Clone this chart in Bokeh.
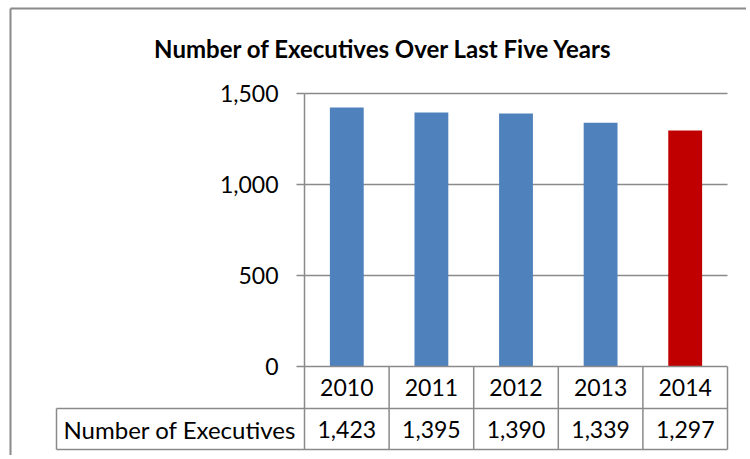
from bokeh.plotting import figure
from bokeh.models import Range1d, LinearAxis, FixedTicker, NumeralTickFormatter
from bokeh.core.properties import value
from bokeh.embed import file_html
from bokeh.resources import INLINE

# ---------------- data ----------------
years = ["2010", "2011", "2012", "2013", "2014"]
executives = [1423, 1395, 1390, 1339, 1297]
series_name = "Number of Executives"
chart_title = "Number of Executives Over Last Five Years"
y_ticks = [0, 500, 1000, 1500]

# ---------------- styles / layout ----------------
BLUE = "#4F81BD"
RED = "#C00000"
bar_colors = [BLUE, BLUE, BLUE, BLUE, RED]
GRAY = "#8a8a8a"
FONT = "Lato"

W, H = 746, 455          # figure size
PAGE = 0                 # page offset of the figure
AXIS_PX = 304            # page x of value axis (left edge of first category)
CAT_PX = 84.6            # page width of one category column
ZERO_PX = 366            # page y of value 0
TOP_PX = 93              # page y of top tick
ROW1_PX = 408            # page y of divider between table rows
ROW2_PX = 449            # page y of table bottom
LABEL_LEFT_PX = 56       # page x of table label cell left edge

ppu = (ZERO_PX - TOP_PX) / max(y_ticks)   # pixels per value unit
X0 = -0.5 - (AXIS_PX - PAGE) / CAT_PX
Y1 = (ZERO_PX - PAGE) / ppu


def xd(px):
    return X0 + (px - PAGE) / CAT_PX


def yd(py):
    return Y1 - (py - PAGE) / ppu


p = figure(width=W, height=H, output_backend="svg", toolbar_location=None,
           x_range=Range1d(X0, X0 + W / CAT_PX), y_range=Range1d(Y1 - H / ppu, Y1),
           x_axis_location=None, y_axis_location=None,
           min_border_left=0, min_border_right=0, min_border_top=0, min_border_bottom=0)
p.outline_line_color = None
p.background_fill_color = "white"
p.border_fill_color = "white"
p.xgrid.visible = False
p.ygrid.visible = False

n = len(years)
xs = list(range(n))
left_edge = -0.5
right_edge = n - 0.5
row1_y = yd(ROW1_PX)
row2_y = yd(ROW2_PX)
label_left = xd(LABEL_LEFT_PX)

# outer chart border (left and top; the rest is cropped)
p.segment(x0=[xd(10), xd(10)], y0=[yd(8), yd(8)], x1=[xd(10), X0 + W / CAT_PX],
          y1=[Y1 - H / ppu, yd(8)], line_color=GRAY, line_width=2)

# gridlines
grid_vals = [t for t in y_ticks if t != 0]
p.segment(x0=[left_edge] * len(grid_vals), x1=[right_edge] * len(grid_vals),
          y0=grid_vals, y1=grid_vals, line_color=GRAY, line_width=1.5)

# bars
p.vbar(x=xs, top=executives, width=0.4, bottom=0, color=bar_colors, line_color=None)

# data table lines
hx0 = [left_edge, label_left, label_left]
hx1 = [right_edge, right_edge, right_edge]
hy = [0, row1_y, row2_y]
p.segment(x0=hx0, x1=hx1, y0=hy, y1=hy, line_color=GRAY, line_width=1.5)
vx = [i + 0.5 for i in xs] + [label_left]
vy0 = [0] * n + [row1_y]
p.segment(x0=vx, x1=vx, y0=vy0, y1=[row2_y] * (n + 1), line_color=GRAY, line_width=1.5)

# table texts
p.text(x=xs, y=[(0 + row1_y) / 2] * n, text=years, text_align="center",
       text_baseline="middle", text_font=value(FONT), text_font_size="23px", text_color="black")
p.text(x=xs, y=[(row1_y + row2_y) / 2] * n, text=[f"{v:,}" for v in executives],
       text_align="center", text_baseline="middle", text_font=value(FONT),
       text_font_size="23px", text_color="black")
p.text(x=[xd(63)], y=[(row1_y + row2_y) / 2], text=[series_name], text_align="left",
       text_baseline="middle", text_font=value(FONT), text_font_size="24px", text_color="black")

# title
p.text(x=[xd(383)], y=[yd(48)], text=[chart_title], text_align="center",
       text_baseline="middle", text_font=value(FONT), text_font_style="bold",
       text_font_size="24px", text_color="black")

# value axis
yaxis = LinearAxis(fixed_location=left_edge, bounds=(row2_y, max(y_ticks)),
                   ticker=FixedTicker(ticks=y_ticks),
                   formatter=NumeralTickFormatter(format="0,0"))
yaxis.axis_line_color = GRAY
yaxis.axis_line_width = 1.5
yaxis.major_tick_line_color = GRAY
yaxis.major_tick_line_width = 1.5
yaxis.major_tick_out = 8
yaxis.major_tick_in = 0
yaxis.minor_tick_line_color = None
yaxis.major_label_standoff = 18
yaxis.major_label_text_font = FONT
yaxis.major_label_text_font_size = "23px"
yaxis.major_label_text_color = "black"
p.add_layout(yaxis, "left")

open("out.html", "w").write(file_html(p, INLINE))
